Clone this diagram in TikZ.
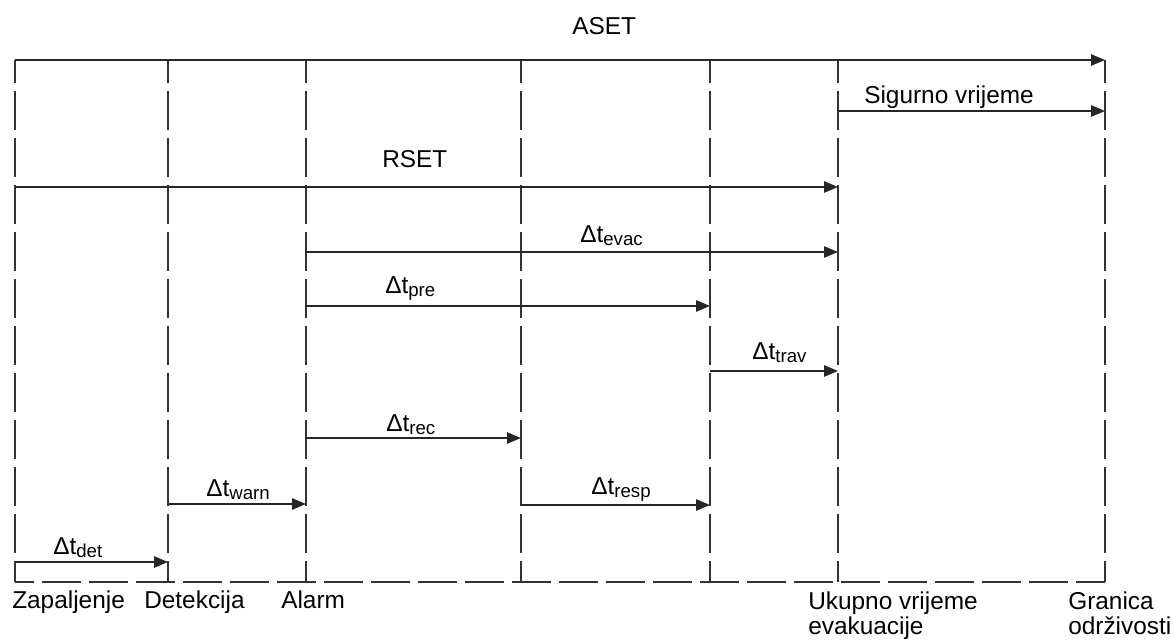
\documentclass[tikz,border=0pt]{standalone}
\usepackage{fontspec}
\setmainfont{Liberation Sans}
\usetikzlibrary{arrows.meta}
\newcommand{\dsub}[1]{\raisebox{-2.6pt}{\fontsize{14}{14}\selectfont #1}}
\begin{document}
\begin{tikzpicture}[x=0.75pt,y=-0.75pt,
  lbl/.style={anchor=base west,inner sep=0pt,font=\fontsize{18.3}{18.75}\selectfont},
  blbl/.style={anchor=north west,inner sep=0pt,align=left,font=\fontsize{18.3}{18.75}\selectfont},
  vline/.style={draw=black!80,line width=1.2pt,dash pattern=on 29.25pt off 6pt,dash phase=12pt},
  hline/.style={draw=black!80,line width=1.2pt,dash pattern=on 29.25pt off 6pt,dash phase=15pt},
  tarrow/.style={draw=black!85,line width=1.2pt,-{Triangle[length=10.5pt,width=8.5pt]}}]
\useasboundingbox (0,0) rectangle (1174,643);
% verticals
\coordinate (T1) at (15,60);   \coordinate (B1) at (15,582);
\coordinate (T2) at (168,60);  \coordinate (B2) at (168,582);
\coordinate (T3) at (306,60);  \coordinate (B3) at (306,582);
\coordinate (T4) at (521,60);  \coordinate (B4) at (521,582);
\coordinate (T5) at (710,60);  \coordinate (B5) at (710,582);
\coordinate (T6) at (838,60);  \coordinate (B6) at (838,582);
\coordinate (T7) at (1105,60); \coordinate (B7) at (1105,582);
\foreach \i in {1,...,7} {\draw[vline] (T\i) -- (B\i);}
\draw[hline] (B1) -- (B7);
% arrow end points
\coordinate (sigS) at (838,111);  \coordinate (sigE) at (1105,111);
\coordinate (rsS) at (15,187);    \coordinate (rsE) at (838,187);
\coordinate (evS) at (306,252);   \coordinate (evE) at (838,252);
\coordinate (prS) at (306,306);   \coordinate (prE) at (710,306);
\coordinate (trS) at (710,371);   \coordinate (trE) at (838,371);
\coordinate (reS) at (306,438);   \coordinate (reE) at (521,438);
\coordinate (rpS) at (521,505);   \coordinate (rpE) at (710,505);
\coordinate (waS) at (168,504);   \coordinate (waE) at (306,504);
\coordinate (deS) at (15,562);    \coordinate (deE) at (168,562);
\draw[tarrow] (T1) -- (T7);
\draw[tarrow] (sigS) -- (sigE);
\draw[tarrow] (rsS) -- (rsE);
\draw[tarrow] (evS) -- (evE);
\draw[tarrow] (prS) -- (prE);
\draw[tarrow] (trS) -- (trE);
\draw[tarrow] (reS) -- (reE);
\draw[tarrow] (rpS) -- (rpE);
\draw[tarrow] (waS) -- (waE);
\draw[tarrow] (deS) -- (deE);
% labels
\node[lbl] (aset) at (572,34) {ASET};
\node[lbl] (sig) at (864,103) {Sigurno vrijeme};
\node[lbl] (rset) at (382,167) {RSET};
\node[lbl] (ev) at (580,242) {Δt\dsub{evac}};
\node[lbl] (pr) at (385,293) {Δt\dsub{pre}};
\node[lbl] (tr) at (752,359) {Δt\dsub{trav}};
\node[lbl] (re) at (386,431) {Δt\dsub{rec}};
\node[lbl] (rp) at (591,494) {Δt\dsub{resp}};
\node[lbl] (wa) at (206,496) {Δt\dsub{warn}};
\node[lbl] (de) at (53,554) {Δt\dsub{det}};
\node[lbl] (zap) at (12,608) {Zapaljenje};
\node[lbl] (det) at (144,608) {Detekcija};
\node[lbl] (alm) at (281,608) {Alarm};
\node[blbl] (uku) at (808,591.5) {Ukupno vrijeme\\evakuacije};
\node[blbl] (gra) at (1068,591.5) {Granica\\održivosti};
\end{tikzpicture}
\end{document}
